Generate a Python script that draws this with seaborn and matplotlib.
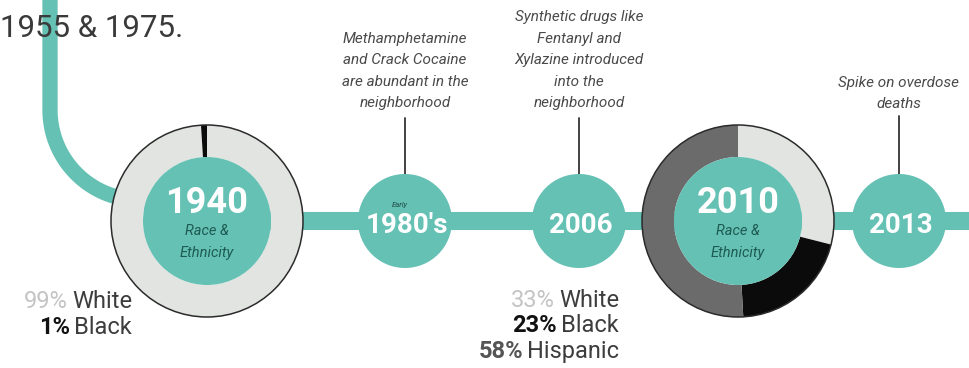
import numpy as np
import matplotlib.pyplot as plt
import seaborn as sns
from matplotlib.patches import Circle

# --- 数据 ---
race_groups = ['White', 'Black', 'Hispanic']
major_years = ['1940', '2010']
share_1940 = [99, 1]
share_2010 = [33, 23, 58]
event_years = ["1980's", '2006', '2013']
event_prefix = ['Early', '', '']
event_notes = [
    'Methamphetamine\nand Crack Cocaine\nare abundant in the\nneighborhood',
    'Synthetic drugs like\nFentanyl and\nXylazine introduced\ninto the\nneighborhood',
    'Spike on overdose\ndeaths',
]
intro_text = '1955 & 1975.'

# --- 样式 ---
TEAL = '#65c1b4'
race_colors = ['#e2e4e1', '#0b0b0b', '#6b6b6b']
pct_colors = ['#c4c4c4', '#111111', '#555555']
pct_weights = ['normal', 'bold', 'bold']

sns.set_theme(style='white')
plt.rcParams['font.family'] = ['Roboto', 'DejaVu Sans']

W, H = 969, 368
fig = plt.figure(figsize=(W / 100, H / 100), dpi=100)
ax = fig.add_axes([0, 0, 1, 1])

# 版面位置（像素）
LINE_Y = 221
big_x = [207, 738]
big_r, inner_r = 96, 64
small_x = [405, 579, 899]
small_r = 47
note_base = [43, 21, 87]
note_top_y = [118, 118, 116]

# 时间线
ax.plot([207, W + 5], [LINE_Y, LINE_Y], color=TEAL, lw=13, solid_capstyle='butt', zorder=1)
t = np.linspace(np.pi, np.pi / 2, 60)
cx, cy, r = 140, 110, 90
curve_x = np.concatenate([[50, 50], cx + r * np.cos(t), [207]])
curve_y = np.concatenate([[-5, cy], cy + r * np.sin(t), [LINE_Y]])
ax.plot(curve_x, curve_y, color=TEAL, lw=11, solid_capstyle='butt', zorder=1)

# 环形图
for x, shares in zip(big_x, [share_1940, share_2010]):
    wedges, _ = ax.pie(shares, colors=race_colors[:len(shares)], center=(x, LINE_Y),
                       radius=big_r, startangle=-90, counterclock=True,
                       wedgeprops=dict(width=big_r - inner_r, linewidth=0))
    for w in wedges:
        w.set_zorder(2)
    ax.add_patch(Circle((x, LINE_Y), big_r, fill=False, ec='#2b2b2b', lw=1.1, zorder=3))
    ax.add_patch(Circle((x, LINE_Y), inner_r, fc=TEAL, ec='none', zorder=3))

ax.set_xlim(0, W)
ax.set_ylim(H, 0)
ax.set_aspect('equal')
ax.axis('off')

for x, year in zip(big_x, major_years):
    ax.text(x, 213, year, ha='center', va='baseline', color='white', fontsize=26,
            fontweight='bold', zorder=5)
    ax.text(x, 235, 'Race &', ha='center', va='baseline', color='#1d5a53', fontsize=10.5,
            style='italic', zorder=5)
    ax.text(x, 257, 'Ethnicity', ha='center', va='baseline', color='#1d5a53', fontsize=10.5,
            style='italic', zorder=5)

# 小圆节点与说明
for x, year, pre, note, base, top in zip(small_x, event_years, event_prefix, event_notes,
                                         note_base, note_top_y):
    ax.add_patch(Circle((x, LINE_Y), small_r, fc=TEAL, ec='none', zorder=3))
    ax.text(x + 2, 233, year, ha='center', va='baseline', color='white', fontsize=20,
            fontweight='bold', zorder=5)
    if pre:
        ax.text(x - 5, 207, pre, ha='center', va='baseline', color='#1d4a45', fontsize=5.5,
                style='italic', zorder=5)
    ax.plot([x, x], [top, LINE_Y - small_r], color='#333333', lw=1.3, zorder=2)
    for i, line in enumerate(note.split('\n')):
        ax.text(x, base + i * 21.5, line, ha='center', va='baseline', color='#4a4a4a',
                fontsize=11, style='italic', zorder=5)

ax.text(0, 37, intro_text, ha='left', va='baseline', color='#3a3a3a', fontsize=22.5)

# 百分比文字
fig.canvas.draw()
renderer = fig.canvas.get_renderer()
inv = ax.transData.inverted()


def stat_line(x_right, y, pct, word, color, weight):
    tw = ax.text(x_right, y, word, ha='right', va='baseline', color='#3d3d3d', fontsize=17)
    bb = tw.get_window_extent(renderer)
    x0 = inv.transform((bb.x0, bb.y0))[0]
    ax.text(x0 - 4, y, f'{pct}%', ha='right', va='baseline', color=color, fontsize=17,
            fontweight=weight)


for i, pct in enumerate(share_1940):
    stat_line(132, 308 + i * 25.5, pct, race_groups[i], pct_colors[i], pct_weights[i])
for i, pct in enumerate(share_2010):
    stat_line(619, 307 + i * 25.5, pct, race_groups[i], pct_colors[i], pct_weights[i])

fig.savefig('out.png', dpi=100, facecolor='white')
